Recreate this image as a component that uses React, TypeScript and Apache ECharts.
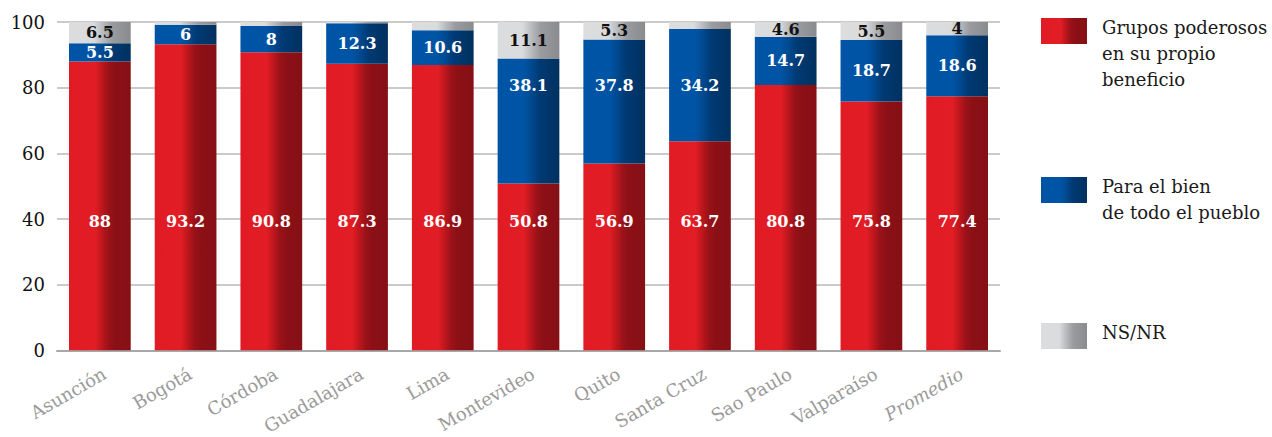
import React, { useEffect, useRef } from "react";
import * as echarts from "echarts";

const categories = ["Asunción", "Bogotá", "Córdoba", "Guadalajara", "Lima", "Montevideo", "Quito", "Santa Cruz", "Sao Paulo", "Valparaíso", "Promedio"];
const grupos = [88, 93.2, 90.8, 87.3, 86.9, 50.8, 56.9, 63.7, 80.8, 75.8, 77.4];
const pueblo = [5.5, 6, 8, 12.3, 10.6, 38.1, 37.8, 34.2, 14.7, 18.7, 18.6];
const nsnr = [6.5, 0.8, 1.2, 0.4, 2.5, 11.1, 5.3, 2.1, 4.6, 5.5, 4];
const seriesNames = ["Grupos poderosos\nen su propio\nbeneficio", "Para el bien\nde todo el pueblo", "NS/NR"];
const yTicks = { min: 0, max: 100, interval: 20 };

const FONT = "DejaVu Serif";
const GRID = { left: 57, right: 272, top: 22, bottom: 86 };
const PLOT_H = 437 - GRID.top - GRID.bottom;
const PX = PLOT_H / (yTicks.max - yTicks.min);

const grad = (stops: [number, string][]) =>
  new echarts.graphic.LinearGradient(0, 0, 1, 0, stops.map(([offset, color]) => ({ offset, color })));

const redGrad = () => grad([[0, "#e01b23"], [0.42, "#e31d25"], [0.52, "#c3171e"], [0.64, "#9a1218"], [0.74, "#8c1016"], [1, "#861015"]]);
const blueGrad = () => grad([[0, "#0054a6"], [0.42, "#0054a5"], [0.55, "#00498f"], [0.68, "#003a74"], [1, "#00315f"]]);
const greyGrad = () => grad([[0, "#dcdddf"], [0.4, "#dadbdd"], [0.55, "#b9babd"], [0.7, "#9a9b9e"], [1, "#8a8b8e"]]);

const labelBase = { fontFamily: FONT, fontWeight: "bold" as const, fontSize: 16 };

export default function App() {
  const ref = useRef<HTMLDivElement>(null);
  useEffect(() => {
    document.body.style.margin = "0";
    if (!ref.current) return;
    const chart = echarts.init(ref.current, null, { renderer: "svg" });

    const redData = grupos.map((v) => ({
      value: v,
      label: { show: true, position: "insideBottom", distance: 121, color: "#fff", ...labelBase },
    }));
    const blueData = pueblo.map((v, i) => {
      const big = v > 30;
      return {
        value: v,
        label: big
          ? { show: true, position: "insideBottom", distance: (80.5 - grupos[i]) * PX - 8, color: "#fff", ...labelBase }
          : { show: true, position: "inside", color: "#fff", ...labelBase },
      };
    });
    const greyData = nsnr.map((v) => ({
      value: v,
      label: { show: v >= 4, position: "inside", color: "#111", ...labelBase },
    }));

    const legendItem = (y: number, fill: any, text: string) => [
      { type: "rect", left: 1041, top: y, shape: { width: 46, height: 26 }, style: { fill } },
      {
        type: "text",
        left: 1102,
        top: y - 4,
        style: { text, fill: "#1a1a1a", font: `18px "${FONT}"`, lineHeight: 26 },
      },
    ];

    chart.setOption({
      animation: false,
      grid: GRID,
      xAxis: {
        type: "category",
        data: categories,
        axisLine: { lineStyle: { color: "#a8a8a8", width: 2 } },
        axisTick: { inside: true, length: 9, lineStyle: { color: "#a8a8a8", width: 1.5 } },
        axisLabel: {
          rotate: 30,
          margin: 14,
          verticalAlign: "top",
          color: "#9a9a9a",
          fontFamily: FONT,
          fontSize: 18,
          formatter: (v: string) => (v === "Promedio" ? `{it|${v}}` : v),
          rich: { it: { fontStyle: "italic", color: "#9a9a9a", fontFamily: FONT, fontSize: 18 } },
        },
      },
      yAxis: {
        type: "value",
        min: yTicks.min,
        max: yTicks.max,
        interval: yTicks.interval,
        axisLine: { show: false },
        axisTick: { show: false },
        axisLabel: { color: "#111", fontFamily: FONT, fontSize: 18, margin: 12 },
        splitLine: { lineStyle: { color: "#b8b8b8", width: 1.5 } },
      },
      series: [
        { name: seriesNames[0], type: "bar", stack: "t", barWidth: "72%", itemStyle: { color: redGrad() }, data: redData },
        { name: seriesNames[1], type: "bar", stack: "t", barWidth: "72%", itemStyle: { color: blueGrad() }, data: blueData },
        { name: seriesNames[2], type: "bar", stack: "t", barWidth: "72%", itemStyle: { color: greyGrad() }, data: greyData },
      ],
      graphic: [
        ...legendItem(18, redGrad(), seriesNames[0]),
        ...legendItem(177, blueGrad(), seriesNames[1]),
        ...legendItem(323, greyGrad(), seriesNames[2]),
      ],
    });
    return () => chart.dispose();
  }, []);
  return <div ref={ref} style={{ width: 1272, height: 437 }} />;
}
